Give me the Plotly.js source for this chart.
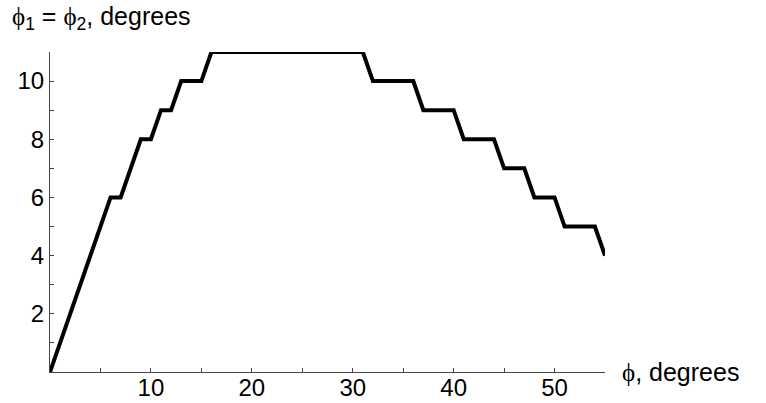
<!DOCTYPE html>
<html>
<head>
<meta charset="utf-8">
<script src="https://cdn.plot.ly/plotly-3.0.1.min.js"></script>
<style>html,body{margin:0;padding:0;background:#fff;}</style>
</head>
<body>
<div id="chart" style="width:766px;height:403px;"></div>
<script>
// phi (degrees) and phi1 = phi2 (degrees)
const phi = [0,1,2,3,4,5,6,7,8,9,10,11,12,13,14,15,16,17,18,19,20,21,22,23,24,25,26,27,28,29,30,31,32,33,34,35,36,37,38,39,40,41,42,43,44,45,46,47,48,49,50,51,52,53,54,55];
const phi12 = [0,1,2,3,4,5,6,6,7,8,8,9,9,10,10,10,11,11,11,11,11,11,11,11,11,11,11,11,11,11,11,11,10,10,10,10,10,9,9,9,9,8,8,8,8,7,7,7,6,6,6,5,5,5,5,4];

const xTickVals = [5,10,15,20,25,30,35,40,45,50,55];
const xTickText = ['','10','','20','','30','','40','','50',''];
const yTickVals = [1,2,3,4,5,6,7,8,9,10,11];
const yTickText = ['','2','','4','','6','','8','','10',''];

const PHI = '<span style="font-family:\'Liberation Serif\',serif;">ϕ</span>';

const trace = {
  x: phi, y: phi12, type: 'scatter', mode: 'lines',
  line: {color: '#000', width: 4},
  cliponaxis: false, hoverinfo: 'skip'
};

const axisCommon = {
  showgrid: false, zeroline: false, showline: true,
  linecolor: '#444', linewidth: 1,
  ticks: 'inside', ticklen: 4, tickwidth: 1, tickcolor: '#444',
  tickfont: {family: 'Liberation Sans, Arial, sans-serif', size: 24, color: '#000'},
  tickmode: 'array', fixedrange: true
};

const layout = {
  width: 766, height: 403,
  margin: {l: 50, r: 161, t: 52, b: 31, pad: 0},
  paper_bgcolor: '#fff', plot_bgcolor: '#fff',
  showlegend: false,
  xaxis: Object.assign({}, axisCommon, {range: [0, 55], tickvals: xTickVals, ticktext: xTickText, ticklabelstandoff: -6}),
  yaxis: Object.assign({}, axisCommon, {range: [0, 11], tickvals: yTickVals, ticktext: yTickText, ticklabelstandoff: 0}),
  annotations: [
    {text: PHI + '<sub>1</sub> = ' + PHI + '<sub>2</sub>, degrees', xref: 'paper', yref: 'paper',
     x: -40/555, y: 1 + 34/320, xanchor: 'left', yanchor: 'middle', showarrow: false,
     font: {family: 'Liberation Sans, Arial, sans-serif', size: 25, color: '#000'}},
    {text: PHI + ', degrees', xref: 'paper', yref: 'paper',
     x: 1 + 15/555, y: 0, xanchor: 'left', yanchor: 'middle', showarrow: false,
     font: {family: 'Liberation Sans, Arial, sans-serif', size: 25, color: '#000'}}
  ]
};

Plotly.newPlot('chart', [trace], layout, {displayModeBar: false, staticPlot: true});
</script>
</body>
</html>
